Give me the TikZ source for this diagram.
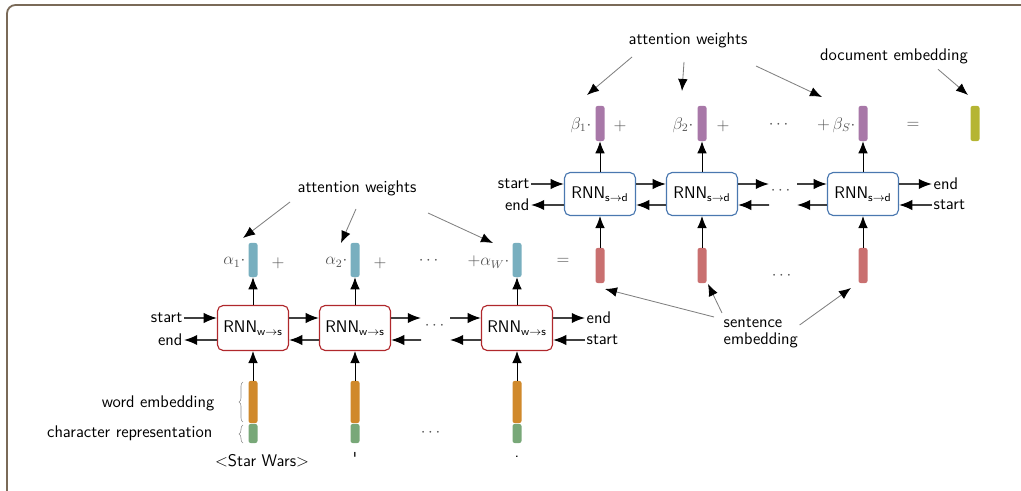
\documentclass[tikz,border=0pt]{standalone}
\usepackage{amsmath,amssymb}
\usepackage{xcolor}
\usepackage{tikz}
\usetikzlibrary{calc,arrows.meta,decorations.pathreplacing}
\definecolor{rim}{HTML}{7A6A58}
\definecolor{wred}{HTML}{B0282C}
\definecolor{sblue}{HTML}{4A78B0}
\definecolor{vteal}{HTML}{78AFBF}
\definecolor{vpurple}{HTML}{A878A8}
\definecolor{vorange}{HTML}{D0892B}
\definecolor{vgreen}{HTML}{78A878}
\definecolor{vred}{HTML}{C97070}
\definecolor{volive}{HTML}{B5B533}
\definecolor{muted}{HTML}{555555}
\tikzset{
  rnnw/.style={draw=wred, line width=0.8pt, rounded corners=4pt, fill=white,
    minimum width=1.775cm, minimum height=1.125cm, inner sep=0pt, font=\sffamily\fontsize{12}{14}\selectfont},
  rnns/.style={rnnw, draw=sblue, minimum height=1.075cm},
  vec/.style={rounded corners=1.5pt, minimum width=0.225cm, inner sep=0pt},
  flow/.style={draw=black!75, line width=1.1pt, -{Latex[length=3.3mm,width=2.6mm,black]}},
  upar/.style={draw=black, line width=0.6pt, -{Latex[length=3mm,width=2.4mm]}},
  note/.style={draw=black!50, line width=0.6pt, -{Latex[length=3mm,width=2.4mm,black]}},
  lab/.style={font=\sffamily\fontsize{12}{14}\selectfont, inner sep=1pt},
  mlab/.style={text=muted, font=\fontsize{12}{14}\selectfont, inner sep=1pt},
  brc/.style={draw=black!45, line width=0.4pt, decorate, decoration={brace, amplitude=0.1cm}},
}
\begin{document}
\begin{tikzpicture}[x=0.025cm, y=-0.025cm]
  \useasboundingbox (0,0) rectangle (1021,491);
  \draw[rim, line width=1.3pt, rounded corners=6pt] (7,491) -- (7,5) -- (1021,5);

  % word level
  \node[rnnw] (w1) at (253,328) {RNN$_{\mathsf{w\to s}}$};
  \node[rnnw] (w2) at (355,328) {RNN$_{\mathsf{w\to s}}$};
  \node[rnnw] (w3) at (517,328) {RNN$_{\mathsf{w\to s}}$};
  \foreach \i/\x in {1/253,2/355,3/517}{
    \node[vec, fill=vteal, minimum height=0.85cm] (a\i) at (\x,260) {};
    \node[vec, fill=vorange, minimum height=1.05cm] (e\i) at (\x,402) {};
    \node[vec, fill=vgreen, minimum height=0.475cm] (c\i) at (\x,433.5) {};
    \draw[upar] (w\i.north) -- (a\i.south);
    \draw[upar] (e\i.north) -- (w\i.south);
  }
  \node[mlab, anchor=east] (la1) at (247,262) {$\alpha_1\cdot$};
  \node[mlab] (pa1) at (278,263) {$+$};
  \node[mlab, anchor=east] (la2) at (349,262) {$\alpha_2\cdot$};
  \node[mlab] (pa2) at (380,263) {$+$};
  \node[mlab] (da) at (430,261) {$\cdots$};
  \node[mlab, anchor=east] (la3) at (511,262) {$+\alpha_W\cdot$};
  \node[mlab] (qa) at (563,261) {$=$};

  \node[lab, anchor=east] (wsin) at (184,318) {start};
  \node[lab, anchor=east] (wsout) at (184,340) {end};
  \node[lab, anchor=west] (weout) at (585,318) {end};
  \node[lab, anchor=west] (wein) at (585,340) {start};
  \node[mlab] (wdots) at (436,326) {$\cdots$};
  \coordinate (wm1) at (421,318);
  \coordinate (wm2) at (450,318);
  \coordinate (wm3) at (421,340);
  \coordinate (wm4) at (450,340);
  \draw[flow] (wsin.east) -- (w1.west |- wsin.east);
  \draw[flow] ([yshift=0.25cm]w1.east) -- ([yshift=0.25cm]w2.west);
  \draw[flow] ([yshift=0.25cm]w2.east) -- (wm1);
  \draw[flow] (wm2) -- ([yshift=0.25cm]w3.west);
  \draw[flow] ([yshift=0.25cm]w3.east) -- (weout.west);
  \draw[flow] (wein.west) -- (w3.east |- wein.west);
  \draw[flow] ([yshift=-0.3cm]w3.west) -- (wm4);
  \draw[flow] (wm3) -- ([yshift=-0.3cm]w2.east);
  \draw[flow] ([yshift=-0.3cm]w2.west) -- ([yshift=-0.3cm]w1.east);
  \draw[flow] (w1.west |- wsout.east) -- (wsout.east);

  \node[lab, anchor=east] (lwe) at (216,403) {word embedding};
  \node[lab, anchor=east] (lcr) at (214,433) {character representation};
  \draw[brc] (243,422) -- (243,382);
  \draw[brc] (243,443) -- (243,425);
  \node[lab] (tok1) at (262,461) {<Star Wars>};
  \node[lab] (tok2) at (355,458) {\textquotesingle};
  \node[lab] (tok3) at (517,457) {.};
  \node[mlab] (cdots) at (432,433) {$\cdots$};

  \node[lab] (attw) at (357,188) {attention weights};
  \coordinate (aw1) at (290,202);
  \coordinate (aw2) at (356,209);
  \coordinate (aw3) at (428,213);
  \coordinate (ah1) at (243,238);
  \coordinate (ah2) at (341,243);
  \coordinate (ah3) at (493,243);
  \draw[note] (aw1) -- (ah1);
  \draw[note] (aw2) -- (ah2);
  \draw[note] (aw3) -- (ah3);

  % sentence level
  \node[rnns] (s1) at (600,194) {RNN$_{\mathsf{s\to d}}$};
  \node[rnns] (s2) at (702,194) {RNN$_{\mathsf{s\to d}}$};
  \node[rnns] (s3) at (863,194) {RNN$_{\mathsf{s\to d}}$};
  \foreach \i/\x in {1/600,2/702,3/863}{
    \node[vec, fill=vpurple, minimum height=0.875cm] (b\i) at (\x,123.5) {};
    \node[vec, fill=vred, minimum height=0.875cm] (r\i) at (\x,265.5) {};
    \draw[upar] (s\i.north) -- (b\i.south);
    \draw[upar] (r\i.north) -- (s\i.south);
  }
  \node[vec, fill=volive, minimum height=0.875cm] (doc) at (975,123.5) {};
  \node[mlab, anchor=east] (lb1) at (593,125) {$\beta_1\cdot$};
  \node[mlab] (pb1) at (620,126) {$+$};
  \node[mlab, anchor=east] (lb2) at (695,125) {$\beta_2\cdot$};
  \node[mlab] (pb2) at (723,126) {$+$};
  \node[mlab] (db) at (780,125) {$\cdots$};
  \node[mlab, anchor=east] (lb3) at (857,125) {$+\,\beta_S\cdot$};
  \node[mlab] (qb) at (913,125) {$=$};
  \node[mlab] (rdots) at (783,276) {$\cdots$};

  \node[lab, anchor=east] (ssin) at (531,184) {start};
  \node[lab, anchor=east] (ssout) at (531,205) {end};
  \node[lab, anchor=west] (seout) at (932,184) {end};
  \node[lab, anchor=west] (sein) at (932,205) {start};
  \node[mlab] (sdots) at (782,191) {$\cdots$};
  \coordinate (sm1) at (769,184);
  \coordinate (sm2) at (797,184);
  \coordinate (sm3) at (769,205);
  \coordinate (sm4) at (797,205);
  \draw[flow] (ssin.east) -- (s1.west |- ssin.east);
  \draw[flow] ([yshift=0.25cm]s1.east) -- ([yshift=0.25cm]s2.west);
  \draw[flow] ([yshift=0.25cm]s2.east) -- (sm1);
  \draw[flow] (sm2) -- ([yshift=0.25cm]s3.west);
  \draw[flow] (s3.east |- seout.west) -- (seout.west);
  \draw[flow] (sein.west) -- (s3.east |- sein.west);
  \draw[flow] ([yshift=-0.275cm]s3.west) -- (sm4);
  \draw[flow] (sm3) -- ([yshift=-0.275cm]s2.east);
  \draw[flow] ([yshift=-0.275cm]s2.west) -- ([yshift=-0.275cm]s1.east);
  \draw[flow] (s1.west |- ssout.east) -- (ssout.east);

  \node[lab] (attb) at (688,40) {attention weights};
  \coordinate (bw1) at (632,57);
  \coordinate (bw2) at (684,62);
  \coordinate (bw3) at (756,66);
  \coordinate (bh1) at (587,95);
  \coordinate (bh2) at (682,91);
  \coordinate (bh3) at (822,97);
  \draw[note] (bw1) -- (bh1);
  \draw[note] (bw2) -- (bh2);
  \draw[note] (bw3) -- (bh3);

  \node[lab] (ldoc) at (894,56) {document embedding};
  \coordinate (dh) at (968,95);
  \draw[note] ([xshift=1.1cm,yshift=-0.1cm]ldoc.south) -- (dh);

  \node[lab, anchor=west, align=left] (lsent) at (722,333) {sentence\\[-2pt]embedding};
  \coordinate (sh1) at (605,289);
  \coordinate (sh2) at (708,284);
  \coordinate (sh3) at (851,288);
  \draw[note] ([xshift=-0.2cm,yshift=0.4cm]lsent.west) -- (sh1);
  \draw[note] ([yshift=0.5cm]lsent.west) -- (sh2);
  \draw[note] ([yshift=0.2cm]lsent.east) -- (sh3);
\end{tikzpicture}
\end{document}
